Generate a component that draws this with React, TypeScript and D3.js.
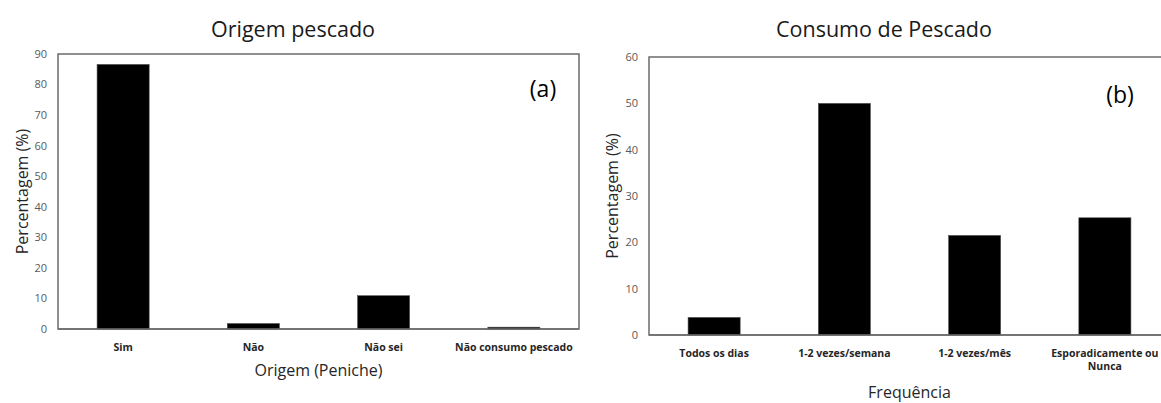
import React, { useEffect, useRef } from "react";
import * as d3 from "d3";

// (a) Origem pescado
const origemCategorias = ["Sim", "Não", "Não sei", "Não consumo pescado"];
const origemValores = [86.6, 1.8, 10.9, 0.6];
const origemTicks = [0, 10, 20, 30, 40, 50, 60, 70, 80, 90];

// (b) Consumo de Pescado
const consumoCategorias = ["Todos os dias", "1-2 vezes/semana", "1-2 vezes/mês", "Esporadicamente ou\nNunca"];
const consumoValores = [3.8, 50, 21.5, 25.3];
const consumoTicks = [0, 10, 20, 30, 40, 50, 60];

const FONT = "'Open Sans', 'Noto Sans', sans-serif";

type Panel = {
  title: string;
  titleX: number;
  tag: string;
  tagX: number;
  tagY: number;
  xTitle: string;
  xTitleY: number;
  cats: string[];
  vals: number[];
  ticks: number[];
  left: number;
  right: number;
  top: number;
  bottom: number;
  yLabelX: number;
};

const drawPanel = (svg: d3.Selection<SVGSVGElement, unknown, null, undefined>, p: Panel) => {
  const g = svg.append("g");
  const x = d3
    .scaleBand()
    .domain(p.cats)
    .range([p.left, p.right])
    .paddingInner(0.6)
    .paddingOuter(0.3);
  const y = d3
    .scaleLinear()
    .domain([0, d3.max(p.ticks) as number])
    .range([p.bottom, p.top]);

  // frame
  g.append("rect")
    .attr("x", p.left)
    .attr("y", p.top)
    .attr("width", p.right - p.left)
    .attr("height", p.bottom - p.top)
    .attr("fill", "none")
    .attr("stroke", "#6b6b6b")
    .attr("stroke-width", 1.5);

  g.selectAll(".bar")
    .data(p.vals)
    .enter()
    .append("rect")
    .attr("x", (d, i) => x(p.cats[i]) as number)
    .attr("y", (d) => y(d))
    .attr("width", x.bandwidth())
    .attr("height", (d) => p.bottom - y(d))
    .attr("fill", "#000")
    .attr("stroke", "#555")
    .attr("stroke-width", 0.6);

  // bottom axis line on top of bars
  g.append("line")
    .attr("x1", p.left)
    .attr("x2", p.right)
    .attr("y1", p.bottom)
    .attr("y2", p.bottom)
    .attr("stroke", "#6b6b6b")
    .attr("stroke-width", 1.5);

  g.selectAll(".ytick")
    .data(p.ticks)
    .enter()
    .append("text")
    .attr("x", p.left - 11)
    .attr("y", (d) => y(d))
    .attr("dy", "0.35em")
    .attr("text-anchor", "end")
    .style("font-family", FONT)
    .style("font-size", "11px")
    .style("fill", "#595959")
    .text((d) => d);

  p.cats.forEach((c) => {
    const t = g
      .append("text")
      .attr("x", (x(c) as number) + x.bandwidth() / 2)
      .attr("y", p.bottom + 22)
      .attr("text-anchor", "middle")
      .style("font-family", FONT)
      .style("font-size", "10.5px")
      .style("font-weight", "bold")
      .style("fill", "#262626");
    c.split("\n").forEach((line, i) => {
      t.append("tspan")
        .attr("x", (x(c) as number) + x.bandwidth() / 2)
        .attr("dy", i === 0 ? 0 : 13)
        .text(line);
    });
  });

  g.append("text")
    .attr("transform", "translate(" + p.yLabelX + "," + (p.top + p.bottom) / 2 + ") rotate(-90)")
    .attr("text-anchor", "middle")
    .attr("dy", "0.35em")
    .style("font-family", FONT)
    .style("font-size", "16px")
    .style("fill", "#262626")
    .text("Percentagem (%)");

  g.append("text")
    .attr("x", (p.left + p.right) / 2)
    .attr("y", p.xTitleY)
    .attr("text-anchor", "middle")
    .attr("dy", "0.35em")
    .style("font-family", FONT)
    .style("font-size", "16px")
    .style("fill", "#262626")
    .text(p.xTitle);

  g.append("text")
    .attr("x", p.titleX)
    .attr("y", 37)
    .attr("text-anchor", "middle")
    .style("font-family", FONT)
    .style("font-size", "21.5px")
    .style("fill", "#1a1a1a")
    .text(p.title);

  g.append("text")
    .attr("x", p.tagX)
    .attr("y", p.tagY)
    .attr("text-anchor", "middle")
    .attr("dy", "0.35em")
    .style("font-family", FONT)
    .style("font-size", "23px")
    .style("fill", "#000")
    .text(p.tag);
};

export default function App() {
  const ref = useRef<SVGSVGElement>(null);

  useEffect(() => {
    const svg = d3.select(ref.current as SVGSVGElement);
    svg.selectAll("*").remove();

    drawPanel(svg, {
      title: "Origem pescado",
      titleX: 293,
      tag: "(a)",
      tagX: 543,
      tagY: 89,
      xTitle: "Origem (Peniche)",
      xTitleY: 370,
      cats: origemCategorias,
      vals: origemValores,
      ticks: origemTicks,
      left: 58,
      right: 579,
      top: 54,
      bottom: 329,
      yLabelX: 22,
    });

    drawPanel(svg, {
      title: "Consumo de Pescado",
      titleX: 884,
      tag: "(b)",
      tagX: 1120,
      tagY: 95,
      xTitle: "Frequência",
      xTitleY: 392,
      cats: consumoCategorias,
      vals: consumoValores,
      ticks: consumoTicks,
      left: 649,
      right: 1170,
      top: 57,
      bottom: 335,
      yLabelX: 612,
    });
  }, []);

  return (
    <svg
      ref={ref}
      width={1161}
      height={403}
      style={{ position: "absolute", left: 0, top: 0, background: "#fff" }}
    />
  );
}
